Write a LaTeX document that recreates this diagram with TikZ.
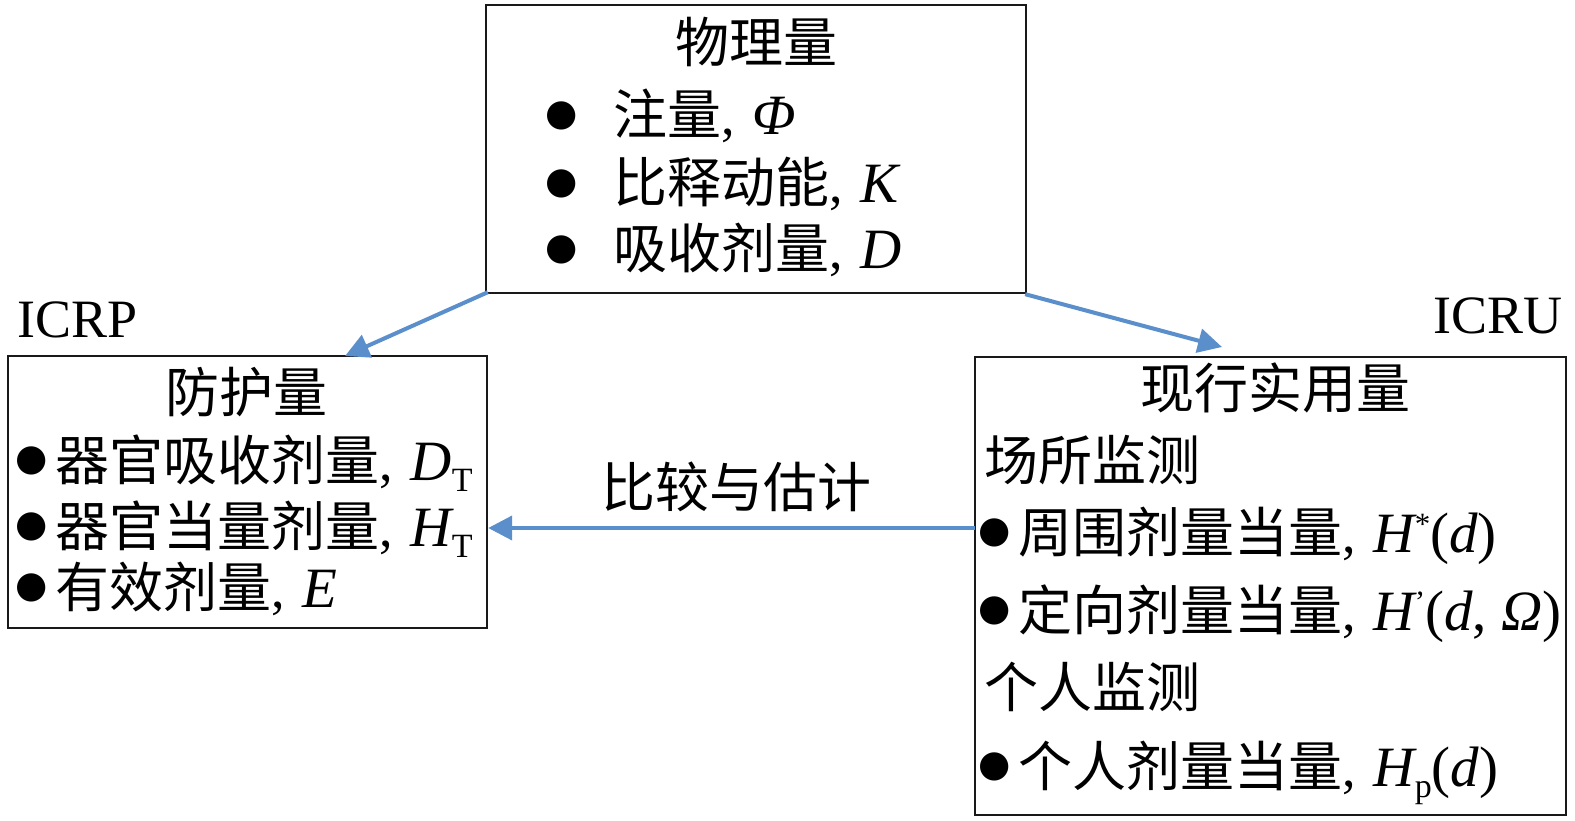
\documentclass[tikz,border=0pt]{standalone}
\usepackage{fontspec}
\setmainfont{Liberation Serif}
\newfontfamily\cjk{Noto Sans CJK SC}
\newfontfamily\symf{DejaVu Sans}
\usetikzlibrary{arrows.meta,calc}
\newcommand\zh[1]{{\cjk #1}}
\newcommand\lit[1]{{\fontsize{57}{60}\selectfont\itshape #1}}
\newcommand\lup[1]{{\fontsize{57}{60}\selectfont #1}}
\newcommand\zcomma{,\hspace{18pt}}
\newcommand\lsub[1]{\raisebox{-11pt}{\fontsize{34}{34}\selectfont #1}}
\newcommand\lsup[1]{\raisebox{18pt}{\fontsize{31}{31}\selectfont #1}}
\definecolor{arrblue}{RGB}{90,143,204}
\begin{document}
\begin{tikzpicture}[x=1pt,y=-1pt,
  box/.style={draw=black!90, line width=2.4pt, inner sep=0, fill=none},
  txt/.style={anchor=base west, inner sep=0, font=\fontsize{54}{60}\selectfont},
  hdr/.style={anchor=base, inner sep=0, font=\fontsize{54}{60}\selectfont},
  bul/.style={anchor=center, inner sep=0, font=\symf\fontsize{37}{37}\selectfont},
  arr/.style={draw=arrblue, line width=4pt, -{Triangle[length=24pt,width=24pt]}}]
\useasboundingbox (0,0) rectangle (1575,821);
% boxes
\node[box, minimum width=540pt, minimum height=288pt] (phys) at (756,149) {};
\node[box, minimum width=479pt, minimum height=272pt] (prot) at (247.5,492) {};
\node[box, minimum width=591pt, minimum height=458pt] (oper) at (1270.5,586) {};
% top box
\node[hdr] (physh) at (756,63) {\zh{物理量}};
\node[bul] (pb1) at (562,116) {●};
\node[txt] (pl1) at (613,135) {\zh{注量}\zcomma\lit{Φ}};
\node[bul] (pb2) at (562,184) {●};
\node[txt] (pl2) at (613,203) {\zh{比释动能}\zcomma\lit{K}};
\node[bul] (pb3) at (562,250) {●};
\node[txt] (pl3) at (613,269) {\zh{吸收剂量}\zcomma\lit{D}};
% labels
\node[txt] (icrp) at (17,337) {ICRP};
\node[txt, anchor=base east] (icru) at (1563,333) {ICRU};
% left box
\node[hdr] (proth) at (246,412) {\zh{防护量}};
\node[bul] (lb1) at (32,461) {●};
\node[txt] (ll1) at (55,480) {\zh{器官吸收剂量}\zcomma\lit{D}\lsub{T}};
\node[bul] (lb2) at (32,527) {●};
\node[txt] (ll2) at (55,546) {\zh{器官当量剂量}\zcomma\lit{H}\lsub{T}};
\node[bul] (lb3) at (32,588) {●};
\node[txt] (ll3) at (55,607) {\zh{有效剂量}\zcomma\lit{E}};
% right box
\node[hdr] (operh) at (1275,408) {\zh{现行实用量}};
\node[txt] (rg1) at (984,480) {\zh{场所监测}};
\node[bul] (rb1) at (995,533) {●};
\node[txt] (rl1) at (1018,552) {\zh{周围剂量当量}\zcomma\lit{H}\lsup{*}\lup{(}\lit{d}\lup{)}};
\node[bul] (rb2) at (995,611) {●};
\node[txt] (rl2) at (1018,630) {\zh{定向剂量当量}\zcomma\lit{H}\lsup{’}\lup{(}\lit{d}\lup{, }\lit{Ω}\lup{)}};
\node[txt] (rg2) at (984,707) {\zh{个人监测}};
\node[bul] (rb3) at (995,767) {●};
\node[txt] (rl3) at (1018,786) {\zh{个人剂量当量}\zcomma\lit{H}\lsub{p}\lup{(}\lit{d}\lup{)}};
% middle label
\node[hdr] (cmp) at (736,507) {\zh{比较与估计}};
% arrows
\coordinate (t1) at (345,356);
\coordinate (t2) at (1222,347);
\coordinate (s3) at (975,528);
\draw[arr] ($(phys.south west)+(3,-2)$) -- (t1);
\draw[arr] ($(phys.south east)+(-2,0)$) -- (t2);
\draw[arr] (s3) -- (s3 -| prot.east);
\end{tikzpicture}
\end{document}
